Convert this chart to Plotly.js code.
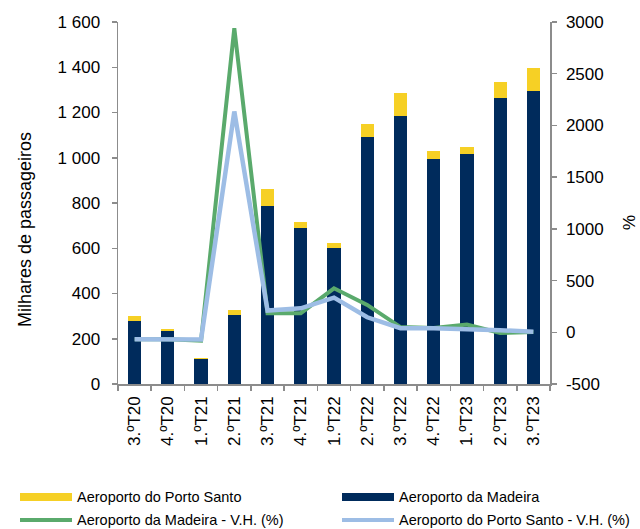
<!DOCTYPE html>
<html>
<head>
<meta charset="utf-8">
<script src="https://cdn.plot.ly/plotly-3.0.1.min.js"></script>
<style>html,body{margin:0;padding:0;background:#fff;}#chart{width:640px;height:529px;}</style>
</head>
<body>
<div id="chart"></div>
<script>
const categories = ["3.ºT20","4.ºT20","1.ºT21","2.ºT21","3.ºT21","4.ºT21","1.ºT22","2.ºT22","3.ºT22","4.ºT22","1.ºT23","2.ºT23","3.ºT23"];
const madeira = [277, 236, 110, 303, 788, 691, 601, 1090, 1186, 993, 1017, 1262, 1296];
const portoSanto = [25, 9, 6, 24, 75, 26, 24, 58, 102, 38, 32, 71, 99];
const madeiraVH = [-68, -68, -80, 2940, 185, 185, 425, 265, 50, 42, 75, -6, 2];
const portoSantoVH = [-68, -68, -70, 2135, 210, 232, 335, 145, 40, 40, 35, 20, 4];
const rightTicks = [-500, 0, 500, 1000, 1500, 2000, 2500, 3000];
const rightTickLabels = ["-500", "0", "500", "1000", "1500", "2000", "2500", "3000"];
const legendLabels = ["Aeroporto do Porto Santo", "Aeroporto da Madeira", "Aeroporto da Madeira - V.H. (%)", "Aeroporto do Porto Santo - V.H. (%)"];

const C_YEL = "#F6D025", C_NAVY = "#002B5C", C_GREEN = "#5AAA6C", C_BLUE = "#9DBDE5";
const FONT = "Liberation Sans, Arial, sans-serif";
const PL = 118, PR = 550, PT = 22, PB = 384;
const px = x => (x - PL) / (PR - PL);
const py = y => (PB - y) / (PB - PT);

const traces = [
  {type: "bar", x: categories, y: madeira, name: legendLabels[1], marker: {color: C_NAVY}, width: 0.4, yaxis: "y"},
  {type: "bar", x: categories, y: portoSanto, name: legendLabels[0], marker: {color: C_YEL}, width: 0.4, yaxis: "y"},
  {type: "scatter", mode: "lines", x: categories, y: madeiraVH, name: legendLabels[2], line: {color: C_GREEN, width: 4}, yaxis: "y2"},
  {type: "scatter", mode: "lines", x: categories, y: portoSantoVH, name: legendLabels[3], line: {color: C_BLUE, width: 4.5}, yaxis: "y2"}
];

const legendSwatch = [
  {kind: "rect", color: C_YEL, x: 20, y: 497, ty: 497, label: legendLabels[0]},
  {kind: "rect", color: C_NAVY, x: 342, y: 497, ty: 497, label: legendLabels[1]},
  {kind: "line", color: C_GREEN, x: 20, y: 520, ty: 519.5, label: legendLabels[2]},
  {kind: "line", color: C_BLUE, x: 342, y: 520, ty: 519.5, label: legendLabels[3]}
];
const shapes = [], annotations = [];
legendSwatch.forEach(s => {
  if (s.kind === "rect") {
    shapes.push({type: "rect", xref: "paper", yref: "paper", x0: px(s.x), x1: px(s.x + 52), y0: py(s.y - 4), y1: py(s.y + 4), fillcolor: s.color, line: {width: 0}});
  } else {
    shapes.push({type: "line", xref: "paper", yref: "paper", x0: px(s.x), x1: px(s.x + 52), y0: py(s.y), y1: py(s.y), line: {color: s.color, width: 4}});
  }
  annotations.push({xref: "paper", yref: "paper", x: px(s.x + 56), y: py(s.ty), xanchor: "left", yanchor: "middle", borderpad: 0, text: s.label, showarrow: false, font: {family: FONT, size: 14.5, color: "#000"}});
});
annotations.push({xref: "paper", yref: "paper", x: px(25), y: py(230), text: "Milhares de passageiros", textangle: -90, showarrow: false, xanchor: "center", yanchor: "middle", font: {family: FONT, size: 18, color: "#000"}});
annotations.push({xref: "paper", yref: "paper", x: px(628), y: py(222), text: "%", textangle: 90, showarrow: false, xanchor: "center", yanchor: "middle", borderpad: 0, font: {family: FONT, size: 17, color: "#000"}});

const axisCol = "#8C8C8C";
const layout = {
  width: 640, height: 529,
  margin: {l: PL, r: 640 - PR, t: PT, b: 529 - PB, pad: 0},
  paper_bgcolor: "#fff", plot_bgcolor: "#fff",
  barmode: "stack",
  showlegend: false,
  separators: ", ",
  font: {family: FONT, size: 17, color: "#000"},
  xaxis: {
    type: "category", showline: true, linecolor: axisCol, linewidth: 1.5,
    ticks: "outside", tickson: "boundaries", ticklen: 5, tickcolor: axisCol, tickwidth: 1.5,
    tickangle: -90, showgrid: false, zeroline: false, ticklabelstandoff: 4,
    tickfont: {family: FONT, size: 17, color: "#000"}
  },
  yaxis: {
    range: [0, 1600], dtick: 200, tick0: 0, separatethousands: true,
    showline: true, linecolor: axisCol, linewidth: 1.5, ticks: "outside", ticklen: 5, tickcolor: axisCol, tickwidth: 1.5,
    showgrid: false, zeroline: false, ticklabelstandoff: 8,
    tickfont: {family: FONT, size: 17, color: "#000"}
  },
  yaxis2: {
    overlaying: "y", side: "right", range: [-500, 3000],
    tickmode: "array", tickvals: rightTicks, ticktext: rightTickLabels,
    showline: true, linecolor: axisCol, linewidth: 1.5, ticks: "outside", ticklen: 5, tickcolor: axisCol, tickwidth: 1.5,
    showgrid: false, zeroline: false, ticklabelstandoff: 6,
    tickfont: {family: FONT, size: 17, color: "#000"}
  },
  shapes: shapes,
  annotations: annotations
};

Plotly.newPlot("chart", traces, layout, {displayModeBar: false, staticPlot: true});
</script>
</body>
</html>
